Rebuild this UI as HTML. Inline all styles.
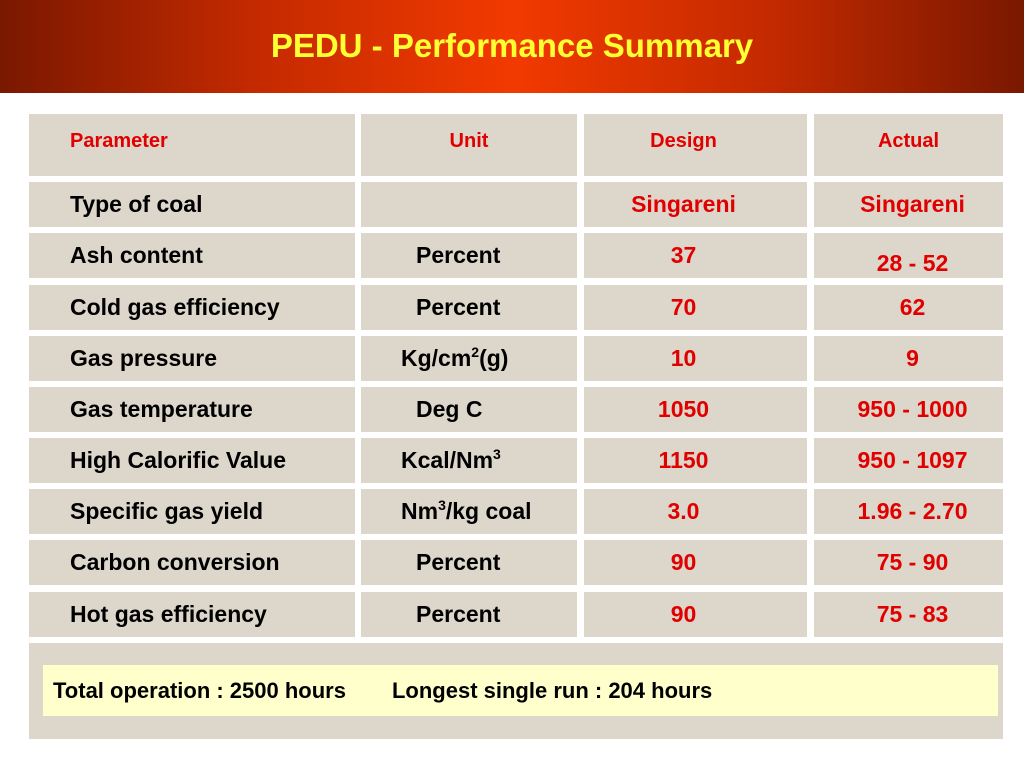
<!DOCTYPE html>
<html><head><meta charset="utf-8"><style>
body{margin:0;width:1024px;height:768px;position:relative;background:#fff;font-family:"Liberation Sans",sans-serif;overflow:hidden}
.hdr{position:absolute;left:0;top:0;width:1024px;height:93px;background:linear-gradient(90deg,#7a1800 0%,#c42a00 25%,#f23a00 50%,#c42a00 75%,#7a1800 100%)}
.title{position:absolute;left:0;width:1024px;top:27px;text-align:center;color:#ffff33;font-weight:bold;font-size:33px}
.c{position:absolute;background:#ddd6cb;font-weight:bold;font-size:23px;display:flex;align-items:center}
.h{font-size:20px;color:#e00000}
.l{padding-left:41px;box-sizing:border-box}
.m{justify-content:center}
.r{color:#e00000}
sup{font-size:14px;vertical-align:9px;line-height:0}
</style></head><body>
<div class="hdr"></div>
<div class="title">PEDU - Performance Summary</div>
<div id="tbl"></div>
<div class="c" style="left:29px;top:643px;width:974px;height:96px"></div>
<div style="position:absolute;left:43px;top:665px;width:955px;height:51px;background:#ffffcc;font-weight:bold;font-size:22px;display:flex;align-items:center">
<span style="margin-left:10px">Total operation : 2500 hours</span><span style="margin-left:46px">Longest single run : 204 hours</span></div>
<script>
const cols=[[29,326],[361,216],[584,223],[814,189]];
const rowTops=[114,182,233,285,336,387,438,489,540,592];
const rowH=[62,45,45,45,45,45,45,45,45,45];
const rows=[
["Parameter","Unit","Design","Actual"],
["Type of coal","","Singareni","Singareni"],
["Ash content","Percent","37","28 - 52"],
["Cold gas efficiency","Percent","70","62"],
["Gas pressure","Kg/cm<sup>2</sup>(g)","10","9"],
["Gas temperature","Deg C","1050","950 - 1000"],
["High Calorific Value","Kcal/Nm<sup>3</sup>","1150","950 - 1097"],
["Specific gas yield","Nm<sup>3</sup>/kg coal","3.0","1.96 - 2.70"],
["Carbon conversion","Percent","90","75 - 90"],
["Hot gas efficiency","Percent","90","75 - 83"]];
const t=document.getElementById('tbl');
rows.forEach((r,i)=>{r.forEach((v,j)=>{
const d=document.createElement('div');


let cls='c '+(j==0?'l':'m');
if(i==0)cls+=' h';else if(j>=2)cls+=' r';
d.className=cls;
let w=cols[j][1];
d.style.left=cols[j][0]+'px';d.style.width=w+'px';
d.style.top=rowTops[i]+'px';d.style.height=rowH[i]+'px';
d.style.boxSizing='border-box';
if(i==0)d.style.paddingBottom='8px';
if(i==2&&j==3)d.style.paddingTop='16px';
if(j==2)d.style.paddingRight='24px';
if(j==3&&i>0)d.style.paddingLeft='8px';
if(j==1&&i>0){d.style.justifyContent='flex-start';d.style.paddingLeft=(i==4||i==6||i==7?40:55)+'px';}
d.innerHTML='<span>'+v+'</span>';t.appendChild(d);});});
</script>
</body></html>
